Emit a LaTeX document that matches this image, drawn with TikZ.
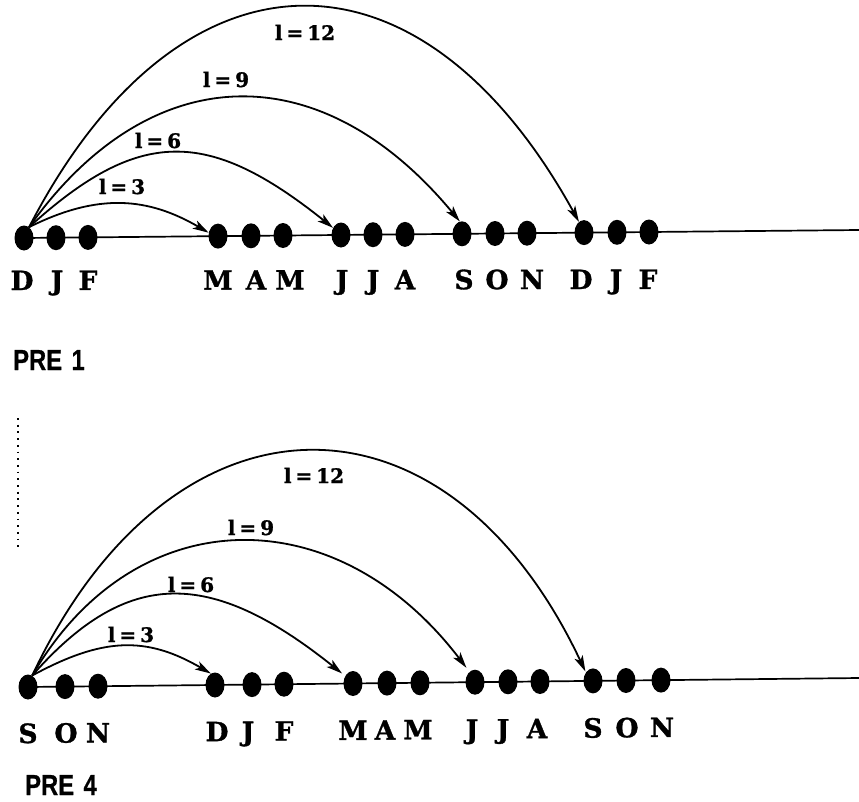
\documentclass[tikz,border=0pt]{standalone}
\usepackage{fontspec}
\usepackage{graphicx}
\usetikzlibrary{shapes.geometric,arrows.meta}
\newfontfamily\serifbold{DejaVu Serif}[BoldFeatures={FakeBold=1.2}]
\newfontfamily\sansbold{Liberation Sans}[BoldFeatures={FakeBold=0.8}]

\tikzset{
  dot/.style={ellipse, fill=black, draw=none, inner sep=0pt,
              minimum width=19pt, minimum height=25pt},
  axis/.style={line width=1.7pt},
  lag/.style={line width=1.8pt, -{Stealth[length=16pt,width=9pt,inset=4pt]}},
  month/.style={anchor=base, inner sep=0pt, font=\serifbold\bfseries\fontsize{26.5pt}{26.5pt}\selectfont},
  laglabel/.style={anchor=base, inner sep=0pt, font=\serifbold\bfseries\fontsize{20pt}{20pt}\selectfont},
  panel/.style={anchor=base west, inner sep=0pt, font=\sansbold\bfseries\fontsize{29pt}{29pt}\selectfont},
  guide/.style={line width=2pt, dash pattern=on 1.8pt off 4.9pt}
}
\newcommand{\lagtext}[1]{l\hspace{0.2em}=\hspace{0.2em}#1}

\begin{document}
\begin{tikzpicture}[x=1pt,y=-1pt]
\useasboundingbox (0,0) rectangle (859,801);

% ---------------- upper time line (PRE 1) ----------------
\foreach \n/\px/\py in {0/24/238.0, 1/56/237.7, 2/88/237.4,
                        3/218/236.1, 4/251/235.8, 5/283/235.5,
                        6/341/235.0, 7/373/234.7, 8/405/234.4,
                        9/462/233.8, 10/495/233.5, 11/527/233.2,
                        12/584/232.6, 13/617/232.3, 14/649/232.0}
  \node[dot] (t\n) at (\px,\py) {};
\coordinate (tend) at (859,230);
\draw[axis] (t0.center) -- (tend);

\foreach \txt/\px [count=\i] in {D/22, J/57, F/88, M/218, A/256, M/290,
                                 J/342, J/373, A/405, S/464, O/497, N/532,
                                 D/581, J/616, F/648}
  \node[month] (tm\i) at (\px,{290-(\px-22)*0.0018}) {\txt};

\draw[lag] (t0.65) .. controls +(70,-35) and +(-60,-35) .. (t3.160);
\draw[lag] (t0.65) .. controls +(110,-100) and +(-125,-100) .. (t6.138);
\draw[lag] (t0.65) .. controls +(120,-169) and +(-140,-169) .. (t9.100);
\draw[lag] (t0.65) .. controls +(150,-290) and +(-160,-290) .. (t12.115);

\node[laglabel] (tl3)  at (122,194) {\lagtext{3}};
\node[laglabel] (tl6)  at (158,148) {\lagtext{6}};
\node[laglabel] (tl9)  at (226,87)  {\lagtext{9}};
\node[laglabel] (tl12) at (305,40)  {\lagtext{12}};

\node[panel] (pre1) at (13,370) {\scalebox{0.82}[1]{PRE\hspace{0.4em}1}};

% dotted guide
\coordinate (gtop) at (17.5,418);
\coordinate (gbot) at (17.5,547);
\draw[guide] (gtop) -- (gbot);

% ---------------- lower time line (PRE 4) ----------------
\foreach \n/\px/\py in {0/28/687.0, 1/65/686.6, 2/98/686.2,
                        3/215/685.0, 4/252/684.6, 5/284/684.2,
                        6/353/683.5, 7/387/683.1, 8/420/682.8,
                        9/475/682.2, 10/508/681.8, 11/540/681.5,
                        12/593/680.9, 13/626/680.5, 14/661/680.1}
  \node[dot] (b\n) at (\px,\py) {};
\coordinate (bend) at (859,678);
\draw[axis] (b0.center) -- (bend);

\foreach \txt/\px [count=\i] in {S/28, O/66, N/98, D/217, J/248, F/284,
                                 M/353, A/385, M/418, J/472, J/503, A/537,
                                 S/593, O/627, N/662}
  \node[month] (bm\i) at (\px,{743-(\px-28)*0.0095}) {\txt};

\draw[lag] (b0.70) .. controls +(70,-38) and +(-65,-38) .. (b3.110);
\draw[lag, shorten >=4pt] (b0.70) .. controls +(95,-108) and +(-135,-108) .. (b6.136);
\draw[lag, shorten >=5pt] (b0.70) .. controls +(102,-176) and +(-134,-176) .. (b9.118);
\draw[lag, shorten >=1pt] (b0.70) .. controls +(140,-297) and +(-140,-297) .. (b12.130);

\node[laglabel] (bl3)  at (131,642) {\lagtext{3}};
\node[laglabel] (bl6)  at (191,592) {\lagtext{6}};
\node[laglabel] (bl9)  at (251,535) {\lagtext{9}};
\node[laglabel] (bl12) at (314,483) {\lagtext{12}};

\node[panel] (pre4) at (25,795) {\scalebox{0.82}[1]{PRE\hspace{0.4em}4}};
\end{tikzpicture}
\end{document}
